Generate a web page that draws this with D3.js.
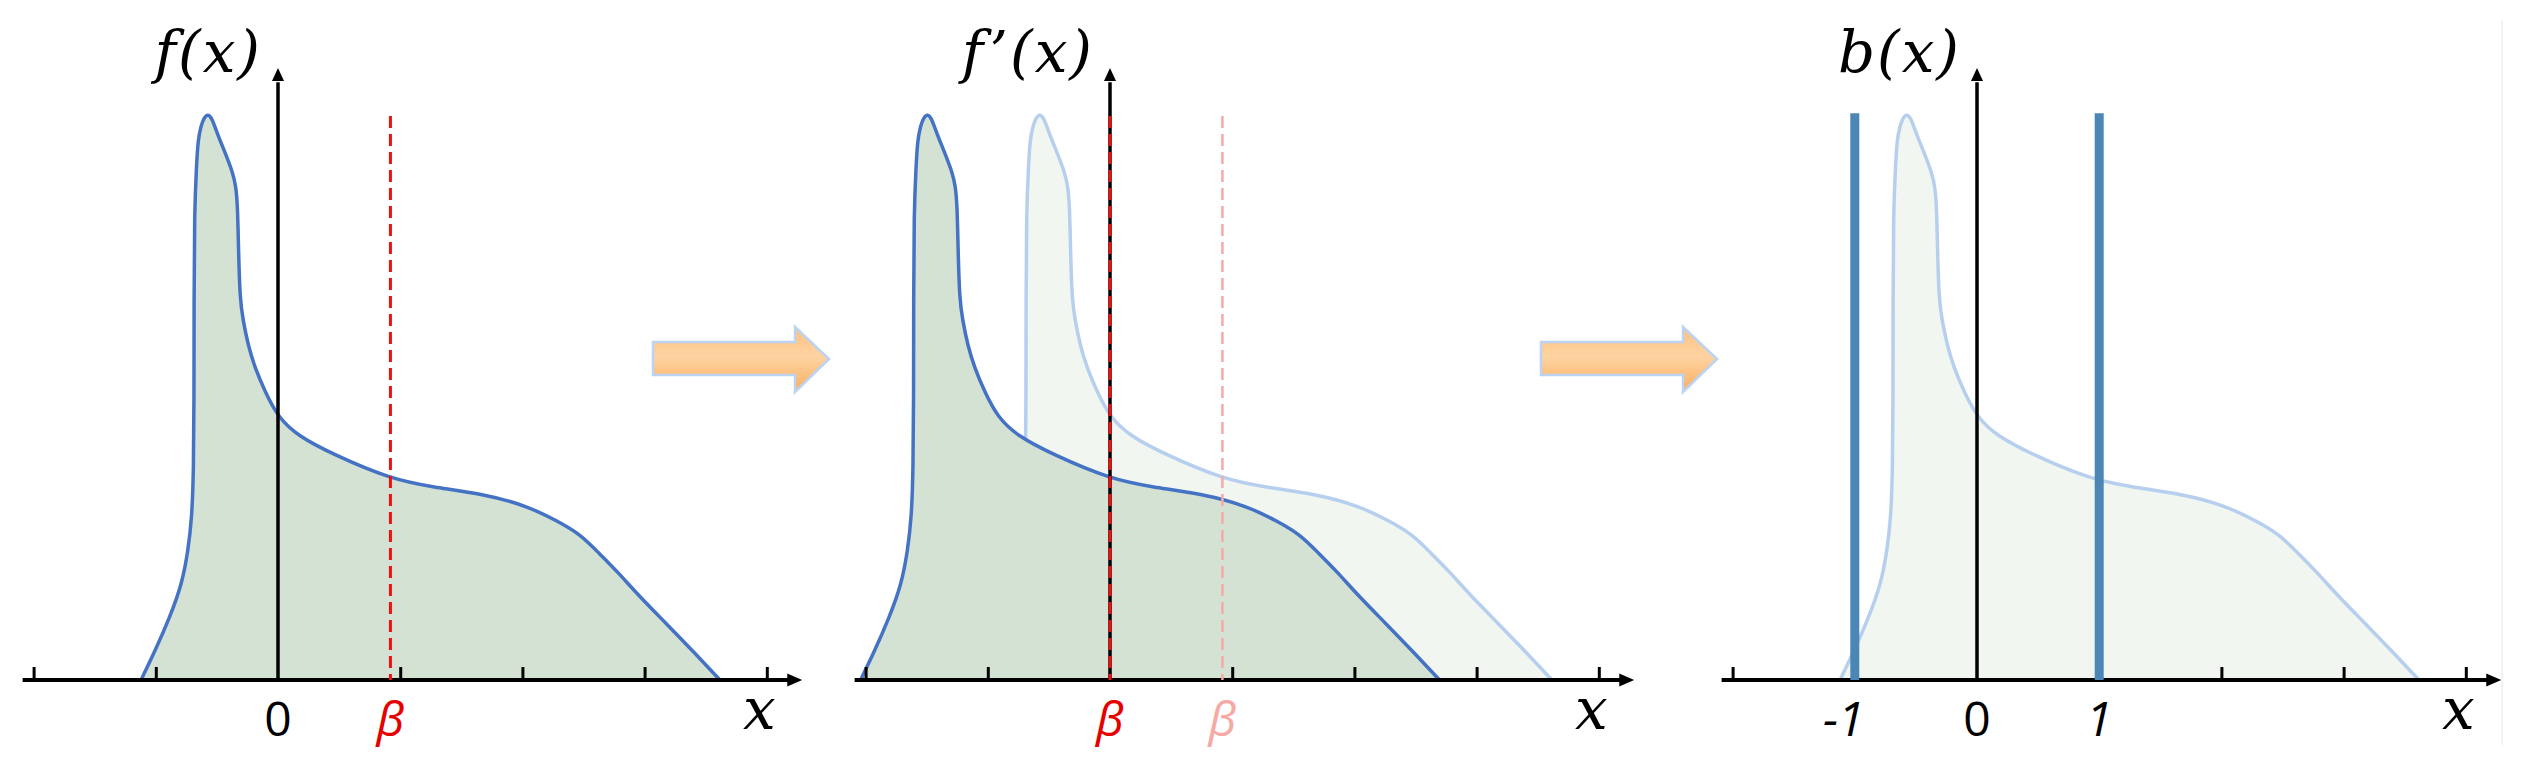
<!DOCTYPE html>
<html lang="en">
<head>
<meta charset="UTF-8"/>
<title>Shifted density and binarization</title>
<script src="https://d3js.org/d3.v7.min.js"></script>
<style>
  body { margin: 0; background: #fff; }
  svg { display: block; }
  .ticks line { stroke: #000; stroke-width: 3px; }
  .ticks path { display: none; }
  .title { font-family: "DejaVu Serif", serif; font-style: italic; font-size: 58px; }
  .xlab { font-family: "DejaVu Serif", serif; font-style: italic; font-size: 58px; }
  .tlab { font-family: "Open Sans", sans-serif; font-size: 48px; }
</style>
</head>
<body>
<script>
// density (x in tick units, y relative to the peak)
var densX = [-1.121, -1.007, -0.884, -0.786, -0.736, -0.704, -0.691, -0.687, -0.687, -0.684,
             -0.667, -0.655, -0.630, -0.605, -0.573, -0.540, -0.499, -0.442, -0.368, -0.344,
             -0.331, -0.323, -0.311, -0.286, -0.245, -0.188, -0.106, 0, 0.160, 0.450,
             0.925, 1.268, 1.678, 2.038, 2.283, 2.471, 2.635, 2.774, 2.962, 3.183,
             3.396, 3.617];
var densY = [0, 0.051, 0.112, 0.170, 0.229, 0.289, 0.372, 0.496, 0.674, 0.830,
             0.911, 0.957, 0.983, 0.997, 1.004, 0.996, 0.970, 0.940, 0.899, 0.874,
             0.842, 0.762, 0.674, 0.638, 0.594, 0.553, 0.511, 0.466, 0.433, 0.400,
             0.356, 0.342, 0.330, 0.309, 0.282, 0.259, 0.223, 0.193, 0.147, 0.099,
             0.051, 0];

var beta = 0.92;
var xTicks = [-2, -1, 1, 2, 3, 4];
var binLevels = [-1, 1];
var binTop = 1.005;
var titles = ["f(x)", "f\u2019(x)", "b(x)"];
var labels1 = [{v: 0, t: "0"}, {v: beta, t: "\u03b2", c: "#e60000", i: true}];
var labels2 = [{v: 0, t: "\u03b2", c: "#e60000", i: true}, {v: beta, t: "\u03b2", c: "#f6aaa6", i: true}];
var labels3 = [{v: -1, t: "-1", i: true, dx: -11}, {v: 0, t: "0"}, {v: 1, t: "1", i: true}];

var dens = densX.map(function(d, i) { return {x: d, y: densY[i]}; });

var w = 2541, h = 769;
var unit = 122.2;
var zeros = [278, 1110, 1977];

var svg = d3.select("body").append("svg")
    .attr("width", w)
    .attr("height", h);

var defs = svg.append("defs");
var grad = defs.append("linearGradient")
    .attr("id", "arrowFill")
    .attr("x1", 0).attr("y1", 0).attr("x2", 0).attr("y2", 1);
grad.append("stop").attr("offset", "0%").attr("stop-color", "#fcbf80");
grad.append("stop").attr("offset", "45%").attr("stop-color", "#fed4a2");
grad.append("stop").attr("offset", "100%").attr("stop-color", "#f9ad5f");

var y = d3.scaleLinear().domain([0, 1]).range([680, 116]);

function xScaleFor(p) {
    return d3.scaleLinear().domain([-2, 4]).range([zeros[p] - 2 * unit, zeros[p] + 4 * unit]);
}

function drawDensity(g, x, shift, fill, stroke) {
    var area = d3.area()
        .x(function(d) { return x(d.x + shift); })
        .y0(y(0))
        .y1(function(d) { return y(d.y); })
        .curve(d3.curveBasis);
    var line = d3.line()
        .x(function(d) { return x(d.x + shift); })
        .y(function(d) { return y(d.y); })
        .curve(d3.curveBasis);
    g.append("path").datum(dens).attr("d", area).attr("fill", fill);
    g.append("path").datum(dens).attr("d", line)
        .attr("fill", "none").attr("stroke", stroke).attr("stroke-width", 3.5)
        .attr("stroke-linejoin", "round");
}

function drawAxes(g, x, p) {
    // x axis with upward ticks
    g.append("g")
        .attr("class", "ticks")
        .attr("transform", "translate(0," + y(0) + ")")
        .call(d3.axisBottom(x).tickValues(xTicks).tickSize(-13).tickFormat(""));
    g.append("line")
        .attr("x1", x(-2.09)).attr("x2", x(4.18))
        .attr("y1", y(0)).attr("y2", y(0))
        .attr("stroke", "#000").attr("stroke-width", 4);
    g.append("path")
        .attr("d", "M" + x(4.29) + "," + y(0) + "L" + (x(4.29) - 15) + "," + (y(0) - 6.5) +
                   "L" + (x(4.29) - 15) + "," + (y(0) + 6.5) + "Z")
        .attr("fill", "#000");
    // y axis
    g.append("line")
        .attr("x1", x(0)).attr("x2", x(0))
        .attr("y1", y(0)).attr("y2", y(1.06))
        .attr("stroke", "#000").attr("stroke-width", 3.5);
    g.append("path")
        .attr("d", "M" + x(0) + "," + y(1.085) + "L" + (x(0) - 6) + "," + y(1.062) +
                   "L" + (x(0) + 6) + "," + y(1.062) + "Z")
        .attr("fill", "#000");
    g.append("text")
        .attr("class", "title")
        .attr("x", x(0) - 16)
        .attr("y", 72)
        .attr("text-anchor", "end")
        .attr("letter-spacing", 2)
        .text(titles[p]);
    g.append("text")
        .attr("class", "xlab")
        .attr("x", x(3.94))
        .attr("y", 729)
        .attr("text-anchor", "middle")
        .text("x");
}

function drawLabels(g, x, labs) {
    g.selectAll(".tlab").data(labs).enter().append("text")
        .attr("class", "tlab")
        .attr("x", function(d) { return x(d.v) + (d.dx || 0); })
        .attr("y", 736)
        .attr("text-anchor", "middle")
        .attr("fill", function(d) { return d.c || "#000"; })
        .style("font-style", function(d) { return d.i ? "italic" : "normal"; })
        .text(function(d) { return d.t; });
}

function dashed(g, x, v, color, width) {
    g.append("line")
        .attr("x1", x(v)).attr("x2", x(v))
        .attr("y1", y(1)).attr("y2", y(0))
        .attr("stroke", color)
        .attr("stroke-width", width)
        .attr("stroke-dasharray", "12,6");
}

// panel 1: original density
var x1 = xScaleFor(0);
var g1 = svg.append("g");
drawDensity(g1, x1, 0, "#d4e2d4", "#4472c4");
drawAxes(g1, x1, 0);
dashed(g1, x1, beta, "#ee1111", 3);
drawLabels(g1, x1, labels1);

// panel 2: density shifted by beta
var x2 = xScaleFor(1);
var g2 = svg.append("g");
drawDensity(g2, x2, 0, "#f1f6f1", "#b7cfee");
drawDensity(g2, x2, -beta, "#d4e2d4", "#4472c4");
drawAxes(g2, x2, 1);
dashed(g2, x2, 0, "#ee1111", 3);
dashed(g2, x2, beta, "#f6aaa6", 2.5);
drawLabels(g2, x2, labels2);

// panel 3: binarized values
var x3 = xScaleFor(2);
var g3 = svg.append("g");
drawDensity(g3, x3, 0, "#f1f6f1", "#b7cfee");
drawAxes(g3, x3, 2);
g3.selectAll(".bin").data(binLevels).enter().append("line")
    .attr("class", "bin")
    .attr("x1", function(d) { return x3(d); })
    .attr("x2", function(d) { return x3(d); })
    .attr("y1", y(0))
    .attr("y2", y(binTop))
    .attr("stroke", "#4a87b6")
    .attr("stroke-width", 9);
drawLabels(g3, x3, labels3);
g3.append("line")
    .attr("x1", 2502).attr("x2", 2502).attr("y1", 20).attr("y2", 745)
    .attr("stroke", "#efefef").attr("stroke-width", 1.5);

// block arrows between panels
function blockArrow(left) {
    var pts = [[left, 342], [left + 142, 342], [left + 142, 327], [left + 176, 359],
               [left + 142, 392], [left + 142, 375], [left, 375]];
    svg.append("path")
        .attr("d", "M" + pts.map(function(p) { return p.join(","); }).join("L") + "Z")
        .attr("fill", "url(#arrowFill)")
        .attr("stroke", "#bcd3f2")
        .attr("stroke-width", 2.5)
        .attr("stroke-linejoin", "miter");
}
blockArrow(653);
blockArrow(1541);
</script>
</body>
</html>
